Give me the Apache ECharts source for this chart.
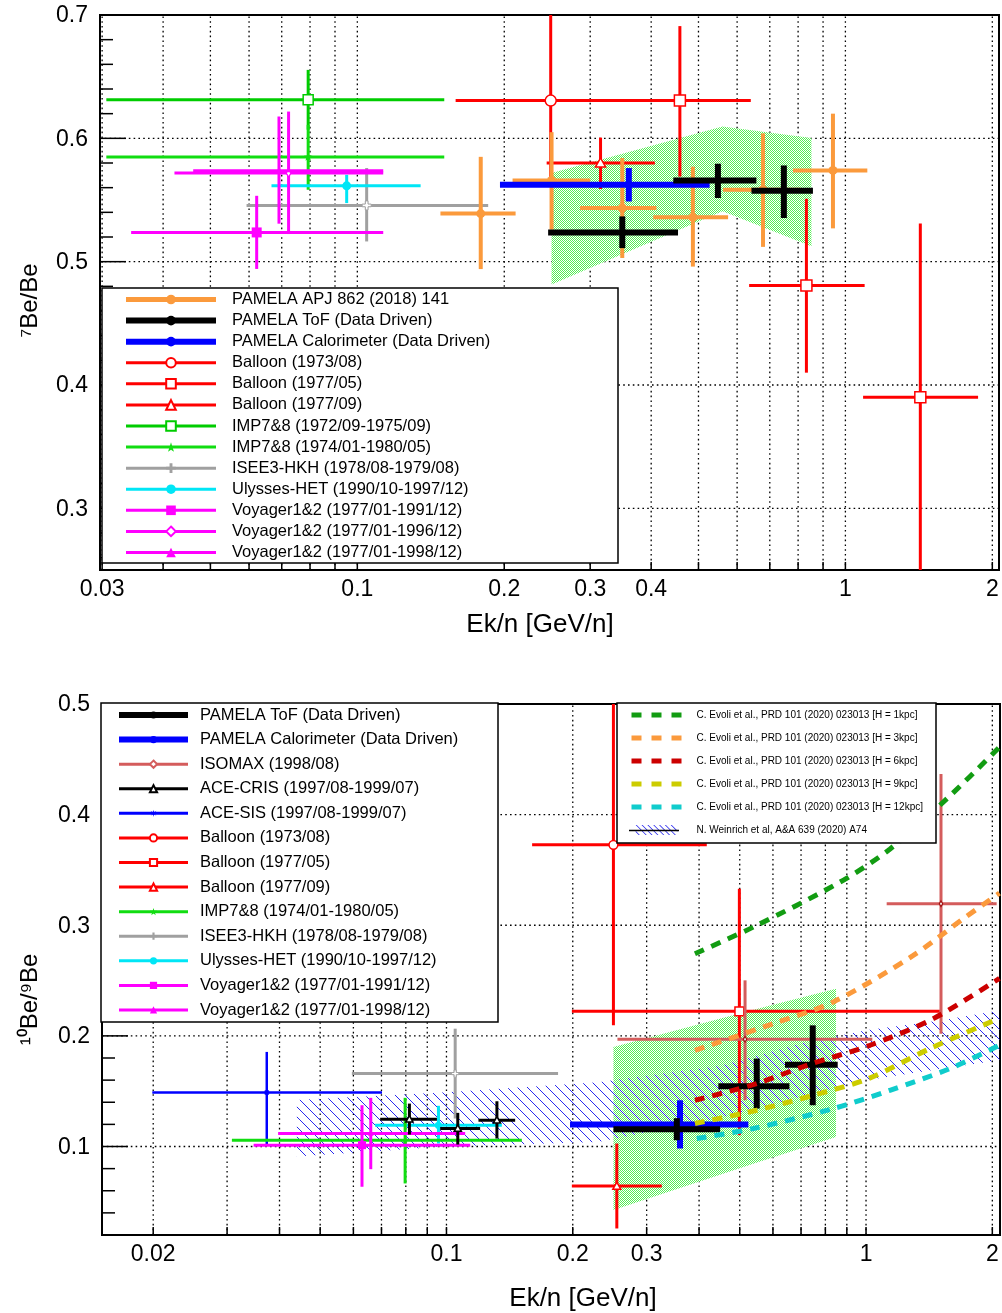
<!DOCTYPE html>
<html><head><meta charset="utf-8">
<script src="https://cdn.jsdelivr.net/npm/echarts@6/dist/echarts.min.js"></script>
<style>html,body{margin:0;padding:0;background:#fff}#c{width:1002px;height:1313px}</style>
</head><body><div id="c"></div>
<script>
// ---------------- axis ranges and ticks ----------------
const TOP_X_RANGE = [0.0297, 2.064];
const TOP_Y_RANGE = [0.25, 0.7];
const BOT_X_RANGE = [0.0151, 2.086];
const BOT_Y_RANGE = [0.02, 0.5];

const X_TICKS_TOP = [0.03,0.04,0.05,0.06,0.07,0.08,0.09,0.1,0.2,0.3,0.4,0.5,0.6,0.7,0.8,0.9,1,2];
const X_LABELS_TOP = [0.03,0.1,0.2,0.3,0.4,1,2];
const Y_MAJOR_TOP = [0.3,0.4,0.5,0.6,0.7];
const Y_MINOR_TOP = [0.26,0.28,0.32,0.34,0.36,0.38,0.42,0.44,0.46,0.48,0.52,0.54,0.56,0.58,0.62,0.64,0.66,0.68];

const X_TICKS_BOT = [0.02,0.03,0.04,0.05,0.06,0.07,0.08,0.09,0.1,0.2,0.3,0.4,0.5,0.6,0.7,0.8,0.9,1,2];
const X_LABELS_BOT = [0.02,0.1,0.2,0.3,1,2];
const Y_MAJOR_BOT = [0.1,0.2,0.3,0.4,0.5];
const Y_MINOR_BOT = [0.02,0.04,0.06,0.08,0.12,0.14,0.16,0.18,0.22,0.24,0.26,0.28,0.32,0.34,0.36,0.38,0.42,0.44,0.46,0.48];

// ---------------- data: [x, y, xlo, xhi, ylo, yhi] ----------------
// Top panel: 7Be/Be
const T_PAMELA_APJ = [
  [0.179, 0.539, 0.148, 0.211, 0.494, 0.585],
  [0.25, 0.5658, 0.208, 0.30, 0.526, 0.605],
  [0.349, 0.5435, 0.286, 0.41, 0.503, 0.584],
  [0.487, 0.536, 0.404, 0.575, 0.496, 0.577],
  [0.678, 0.5583, 0.5615, 0.81, 0.512, 0.604],
  [0.943, 0.574, 0.781, 1.109, 0.527, 0.620]
];
const T_PAMELA_TOF = [
  [0.349, 0.5237, 0.246, 0.454, 0.511, 0.5367],
  [0.548, 0.5658, 0.444, 0.657, 0.5516, 0.5794],
  [0.748, 0.5575, 0.642, 0.858, 0.5354, 0.578]
];
const T_PAMELA_CALO = [[0.36, 0.5623, 0.196, 0.527, 0.5488, 0.5759]];
const T_BALLOON_7308 = [[0.249, 0.6306, 0.159, 0.40, 0.566, 0.72]];
const T_BALLOON_7705 = [
  [0.458, 0.6306, 0.33, 0.640, 0.569, 0.691],
  [0.832, 0.4806, 0.635, 1.095, 0.41, 0.551],
  [1.424, 0.39, 1.087, 1.87, 0.24, 0.531]
];
const T_BALLOON_7709 = [[0.315, 0.58, 0.2443, 0.407, 0.5589, 0.6006]];
const T_IMP_72 = [[0.0793, 0.6312, 0.0306, 0.1507, 0.607, 0.6555]];
const T_IMP_74 = [[0.0793, 0.5848, 0.0306, 0.1507, 0.5583, 0.6109]];
const T_ISEE3 = [[0.1045, 0.5456, 0.0593, 0.1854, 0.5164, 0.5759]];
const T_ULYSSES = [[0.0951, 0.5615, 0.0667, 0.1348, 0.5475, 0.5704]];
const T_VOY_91 = [[0.0622, 0.5237, 0.0344, 0.113, 0.4941, 0.5534]];
const T_VOY_96 = [[0.0723, 0.5718, 0.0422, 0.113, 0.5224, 0.6217]];
const T_VOY_98 = [[0.0691, 0.5737, 0.0461, 0.113, 0.5308, 0.6177]];
// green model band, top panel
const TOP_BAND_X = [0.25, 0.56, 0.852];
const TOP_BAND_LO = [0.4814, 0.5409, 0.5124];
const TOP_BAND_HI = [0.5718, 0.6096, 0.6002];

// Bottom panel: 10Be/9Be
const B_PAMELA_TOF = [
  [0.354, 0.1156, 0.25, 0.449, 0.1057, 0.1256],
  [0.549, 0.1544, 0.4446, 0.6567, 0.1343, 0.1795],
  [0.7464, 0.174, 0.641, 0.856, 0.1373, 0.2095]
];
const B_PAMELA_CALO = [[0.3603, 0.1199, 0.197, 0.5243, 0.0982, 0.1418]];
const B_ISOMAX = [
  [0.5148, 0.1969, 0.2556, 1.035, 0.1418, 0.2502],
  [1.509, 0.3194, 1.12, 2.048, 0.202, 0.4368]
];
const B_ACE_CRIS = [
  [0.0816, 0.1247, 0.0695, 0.0949, 0.1108, 0.1388],
  [0.1064, 0.1163, 0.0966, 0.1203, 0.1018, 0.1304],
  [0.1319, 0.1238, 0.1192, 0.1458, 0.1072, 0.1409]
];
const B_ACE_SIS = [[0.0373, 0.1488, 0.0199, 0.0702, 0.102, 0.1855]];
const B_BALLOON_7308 = [[0.25, 0.3727, 0.16, 0.4173, 0.2095, 0.536]];
const B_BALLOON_7705 = [[0.499, 0.2222, 0.199, 1.5, 0.1102, 0.333]];
const B_BALLOON_7709 = [[0.2547, 0.0642, 0.199, 0.326, 0.0259, 0.1027]];
const B_IMP_74 = [[0.0797, 0.1057, 0.0308, 0.1512, 0.0666, 0.144]];
const B_ISEE3 = [[0.1049, 0.1659, 0.0595, 0.1845, 0.1253, 0.2065]];
const B_ULYSSES = [[0.0957, 0.1192, 0.0676, 0.1355, 0.1027, 0.1368]];
const B_VOY_91 = [[0.0629, 0.1012, 0.0347, 0.1139, 0.0636, 0.1373]];
const B_VOY_98 = [[0.066, 0.1117, 0.0397, 0.1108, 0.0795, 0.144]];
// green model band, bottom panel
const BOT_BAND_X = [0.25, 0.548, 0.848];
const BOT_BAND_LO = [0.0425, 0.0852, 0.1087];
const BOT_BAND_HI = [0.1899, 0.2244, 0.2427];
// Weinrich et al. hatched band
const WEIN_X = [0.044, 0.1, 0.23, 0.45, 0.7, 1.0, 1.5, 2.08];
const WEIN_LO = [0.091, 0.100, 0.104, 0.126, 0.145, 0.160, 0.170, 0.178];
const WEIN_HI = [0.142, 0.149, 0.158, 0.173, 0.193, 0.205, 0.214, 0.223];
// Evoli et al. model curves
const EV1_X = [0.391, 0.539, 0.867, 1.141, 1.557, 2.08];
const EV1_Y = [0.2743, 0.2984, 0.339, 0.369, 0.4142, 0.461];
const EV3_X = [0.391, 0.601, 0.836, 1.296, 1.705, 2.08];
const EV3_Y = [0.187, 0.2111, 0.2307, 0.2727, 0.3059, 0.329];
const EV6_X = [0.391, 0.549, 0.7225, 1.022, 1.447, 2.08];
const EV6_Y = [0.1418, 0.1569, 0.1734, 0.1915, 0.2156, 0.252];
const EV9_X = [0.391, 0.549, 0.749, 1.013, 1.42, 2.08];
const EV9_Y = [0.1208, 0.1328, 0.1463, 0.1614, 0.1885, 0.216];
const EV12_X = [0.395, 0.539, 0.836, 1.14, 1.585, 2.08];
const EV12_Y = [0.1072, 0.1163, 0.1343, 0.1508, 0.1704, 0.1915];

// ---------------- styles ----------------
const FONT = '"Liberation Sans", Arial, Helvetica, sans-serif';
const N = {
  APJ: 'PAMELA APJ 862 (2018) 141', TOF: 'PAMELA ToF (Data Driven)', CALO: 'PAMELA Calorimeter (Data Driven)',
  B7308: 'Balloon (1973/08)', B7705: 'Balloon (1977/05)', B7709: 'Balloon (1977/09)',
  IMP72: 'IMP7&8 (1972/09-1975/09)', IMP74: 'IMP7&8 (1974/01-1980/05)', ISEE: 'ISEE3-HKH (1978/08-1979/08)',
  ULY: 'Ulysses-HET (1990/10-1997/12)', V91: 'Voyager1&2 (1977/01-1991/12)', V96: 'Voyager1&2 (1977/01-1996/12)',
  V98: 'Voyager1&2 (1977/01-1998/12)', ISO: 'ISOMAX (1998/08)', CRIS: 'ACE-CRIS (1997/08-1999/07)', SIS: 'ACE-SIS (1997/08-1999/07)',
  E1: 'C. Evoli et al., PRD 101 (2020) 023013 [H = 1kpc]', E3: 'C. Evoli et al., PRD 101 (2020) 023013 [H = 3kpc]',
  E6: 'C. Evoli et al., PRD 101 (2020) 023013 [H = 6kpc]', E9: 'C. Evoli et al., PRD 101 (2020) 023013 [H = 9kpc]',
  E12: 'C. Evoli et al., PRD 101 (2020) 023013 [H = 12kpc]', WEIN: 'N. Weinrich et al, A&A 639 (2020) A74'
};
const STAR_PATH = 'path://M5,0 L6.2,3.6 L10,3.6 L6.9,5.9 L8.1,9.5 L5,7.3 L1.9,9.5 L3.1,5.9 L0,3.6 L3.8,3.6 Z';
const CROSS_PATH = 'path://M3.5,0 L6.5,0 L6.5,3.5 L10,3.5 L10,6.5 L6.5,6.5 L6.5,10 L3.5,10 L3.5,6.5 L0,6.5 L0,3.5 L3.5,3.5 Z';
const AST_PATH = 'path://M5,0 L5.8,3.6 L9,1.5 L6.4,4.6 L10,5 L6.4,5.4 L9,8.5 L5.8,6.4 L5,10 L4.2,6.4 L1,8.5 L3.6,5.4 L0,5 L3.6,4.6 L1,1.5 L4.2,3.6 Z';
const HATCH_ICON = 'path://M0,0 L1.3,0 L13.3,12 L12,12 Z M7,0 L8.3,0 L20.3,12 L19,12 Z M14,0 L15.3,0 L27.3,12 L26,12 Z M21,0 L22.3,0 L34.3,12 L33,12 Z M28,0 L29.3,0 L41.3,12 L40,12 Z M35,0 L36.3,0 L48.3,12 L47,12 Z M42,0 L43.3,0 L50,6.7 L50,8 Z M0,7 L5,12 L3.7,12 L0,8.3 Z';
const LEG_SYM = {circle:'circle', ocircle:'emptyCircle', square:'rect', osquare:'emptyRect', triangle:'triangle',
  otriangle:'emptyTriangle', odiamond:'emptyDiamond', star:STAR_PATH, ocross:CROSS_PATH, asterisk:AST_PATH};
const ST = {};
ST[N.APJ] = {c:'#fb9a3c', lw:4, lwl:5, m:'circle', ms:9};
ST[N.TOF] = {c:'#000000', lw:6, lwl:6, m:'circle', ms:6};
ST[N.CALO] = {c:'#0000ff', lw:6, lwl:6, m:'circle', ms:6};
ST[N.B7308] = {c:'#ff0000', lw:3, lwl:3, m:'ocircle', ms:11};
ST[N.B7705] = {c:'#ff0000', lw:3, lwl:3, m:'osquare', ms:11};
ST[N.B7709] = {c:'#ff0000', lw:3, lwl:3, m:'otriangle', ms:10};
ST[N.IMP72] = {c:'#00cc00', lw:3, lwl:3, m:'osquare', ms:10};
ST[N.IMP74] = {c:'#11dd11', lw:3, lwl:3, m:'star', ms:9};
ST[N.ISEE] = {c:'#a0a0a0', lw:3, lwl:3, m:'ocross', ms:9};
ST[N.ULY] = {c:'#00e6f6', lw:3, lwl:3, m:'circle', ms:9};
ST[N.V91] = {c:'#ff00ff', lw:3, lwl:3, m:'square', ms:10};
ST[N.V96] = {c:'#ff00ff', lw:3, lwl:3, m:'odiamond', ms:8};
ST[N.V98] = {c:'#ff00ff', lw:3, lwl:3, m:'triangle', ms:7};
ST[N.ISO] = {c:'#d45c5c', lw:3, lwl:3, m:'odiamond', ms:7, mc:'#a01010'};
ST[N.CRIS] = {c:'#000000', lw:3, lwl:3, m:'otriangle', ms:9};
ST[N.SIS] = {c:'#0000ff', lw:2.5, lwl:3, m:'asterisk', ms:7};
const EV_COL = {E1:'#129c12', E3:'#fb9a3c', E6:'#cc0000', E9:'#cccc00', E12:'#10cccc'};

const LEG_TOP = [N.APJ, N.TOF, N.CALO, N.B7308, N.B7705, N.B7709, N.IMP72, N.IMP74, N.ISEE, N.ULY, N.V91, N.V96, N.V98];
const LEG_BOT = [N.TOF, N.CALO, N.ISO, N.CRIS, N.SIS, N.B7308, N.B7705, N.B7709, N.IMP74, N.ISEE, N.ULY, N.V91, N.V98];
const LEG_MODEL = [N.E1, N.E3, N.E6, N.E9, N.E12, N.WEIN];

// ---------------- patterns ----------------
function dotPattern() {
  const c = document.createElement('canvas'); c.width = 2; c.height = 2;
  const g = c.getContext('2d');
  g.fillStyle = '#ffffff'; g.fillRect(0, 0, 2, 2);
  g.fillStyle = '#55ee55';
  g.fillRect(0, 0, 1, 1); g.fillRect(1, 1, 1, 1);
  return {image: c, repeat: 'repeat'};
}
function hatchPattern() {
  const c = document.createElement('canvas'); c.width = 10; c.height = 10;
  const g = c.getContext('2d'); g.strokeStyle = '#2a2aee'; g.lineWidth = 1;
  g.beginPath(); g.moveTo(-1, -1); g.lineTo(11, 11); g.moveTo(-6, 4); g.lineTo(6, 16); g.moveTo(4, -6); g.lineTo(16, 6); g.stroke();
  return {image: c, repeat: 'repeat'};
}
const DOTS = dotPattern();
const HATCH = hatchPattern();

// ---------------- render helpers ----------------
function marker(kind, cx, cy, s, col) {
  const h = s / 2;
  const open = {fill:'#fff', stroke:col, lineWidth:1.5};
  const solid = {fill:col};
  switch (kind) {
    case 'circle': return {type:'circle', shape:{cx, cy, r:h}, style:solid};
    case 'ocircle': return {type:'circle', shape:{cx, cy, r:h}, style:open};
    case 'square': return {type:'rect', shape:{x:cx-h, y:cy-h, width:s, height:s}, style:solid};
    case 'osquare': return {type:'rect', shape:{x:cx-h, y:cy-h, width:s, height:s}, style:open};
    case 'triangle': return {type:'polygon', shape:{points:[[cx,cy-h],[cx+h,cy+h*0.8],[cx-h,cy+h*0.8]]}, style:solid};
    case 'otriangle': return {type:'polygon', shape:{points:[[cx,cy-h],[cx+h,cy+h*0.8],[cx-h,cy+h*0.8]]}, style:open};
    case 'odiamond': return {type:'polygon', shape:{points:[[cx,cy-h],[cx+h*0.6,cy],[cx,cy+h],[cx-h*0.6,cy]]}, style:{fill:'#fff', stroke:col, lineWidth:1.2}};
    case 'star': {
      const pts = [];
      for (let i = 0; i < 10; i++) { const r = i % 2 ? h*0.45 : h; const a = -Math.PI/2 + i*Math.PI/5; pts.push([cx + r*Math.cos(a), cy + r*Math.sin(a)]); }
      return {type:'polygon', shape:{points:pts}, style:solid};
    }
    case 'ocross': {
      const a = h*0.3;
      return {type:'polygon', shape:{points:[[cx-a,cy-h],[cx+a,cy-h],[cx+a,cy-a],[cx+h,cy-a],[cx+h,cy+a],[cx+a,cy+a],[cx+a,cy+h],[cx-a,cy+h],[cx-a,cy+a],[cx-h,cy+a],[cx-h,cy-a],[cx-a,cy-a]]}, style:{fill:'#fff', stroke:col, lineWidth:1}};
    }
    case 'asterisk': return {type:'group', children:[
      {type:'line', shape:{x1:cx-h, y1:cy, x2:cx+h, y2:cy}, style:{stroke:col, lineWidth:1.5}},
      {type:'line', shape:{x1:cx, y1:cy-h, x2:cx, y2:cy+h}, style:{stroke:col, lineWidth:1.5}},
      {type:'line', shape:{x1:cx-h*0.7, y1:cy-h*0.7, x2:cx+h*0.7, y2:cy+h*0.7}, style:{stroke:col, lineWidth:1.5}},
      {type:'line', shape:{x1:cx-h*0.7, y1:cy+h*0.7, x2:cx+h*0.7, y2:cy-h*0.7}, style:{stroke:col, lineWidth:1.5}}]};
  }
  return null;
}
function errSeries(name, data, axis, scale, z) {
  const st = ST[name];
  return {
    type:'custom', name, data, xAxisIndex:axis, yAxisIndex:axis, clip:true, z:z || 3, silent:true,
    itemStyle:{color:st.c},
    renderItem: function (params, api) {
      const x = api.value(0), y = api.value(1);
      const c = api.coord([x, y]);
      const l = api.coord([api.value(2), y]), r = api.coord([api.value(3), y]);
      const lo = api.coord([x, api.value(4)]), hi = api.coord([x, api.value(5)]);
      const ls = {stroke:st.c, lineWidth:st.lw};
      const kids = [
        {type:'line', shape:{x1:l[0], y1:l[1], x2:r[0], y2:r[1]}, style:ls},
        {type:'line', shape:{x1:lo[0], y1:lo[1], x2:hi[0], y2:hi[1]}, style:ls}
      ];
      const m = marker(st.m, c[0], c[1], st.ms*scale, st.mc || st.c);
      if (m) kids.push(m);
      return {type:'group', children:kids};
    }
  };
}
function bandSeries(name, xs, los, his, axis, fill, z, color) {
  return {
    type:'custom', name, data:[[xs[0], los[0]]], xAxisIndex:axis, yAxisIndex:axis, clip:true, z, silent:true,
    itemStyle:{color:color || '#55ee55'},
    renderItem: function (params, api) {
      const pts = [];
      for (let i = 0; i < xs.length; i++) pts.push(api.coord([xs[i], his[i]]));
      for (let i = xs.length - 1; i >= 0; i--) pts.push(api.coord([xs[i], los[i]]));
      return {type:'polygon', shape:{points:pts}, style:{fill}};
    }
  };
}
const DOT_LINE = {stroke:'#000', lineWidth:1.3, lineDash:[1.6, 3.2]};
function xTickSeries(ticks, axis, yr, labels) {
  return {
    type:'custom', data:ticks.map(v => [v, yr[0]]), xAxisIndex:axis, yAxisIndex:axis, clip:false, z:1, silent:true,
    renderItem: function (params, api) {
      const x = api.value(0);
      const b = api.coord([x, yr[0]]), t = api.coord([x, yr[1]]);
      const kids = [
        {type:'line', shape:{x1:b[0], y1:b[1], x2:t[0], y2:t[1]}, style:DOT_LINE},
        {type:'line', shape:{x1:b[0], y1:b[1], x2:b[0], y2:b[1]-8}, style:{stroke:'#000', lineWidth:1.5}}
      ];
      if (labels.indexOf(x) >= 0) {
        kids.push({type:'text', x:b[0], y:b[1]+8, style:{text:String(x), align:'center', verticalAlign:'top', fontSize:23, fontFamily:FONT, fill:'#000'}});
      }
      return {type:'group', children:kids};
    }
  };
}
function yTickSeries(ticks, axis, xr, major) {
  return {
    type:'custom', data:ticks.map(v => [xr[0], v]), xAxisIndex:axis, yAxisIndex:axis, clip:false, z:1, silent:true,
    renderItem: function (params, api) {
      const y = api.value(1);
      const l = api.coord([xr[0], y]), r = api.coord([xr[1], y]);
      const kids = [{type:'line', shape:{x1:l[0], y1:l[1], x2:l[0] + (major ? 26 : 13), y2:l[1]}, style:{stroke:'#000', lineWidth:1.5}}];
      if (major) {
        kids.push({type:'line', shape:{x1:l[0], y1:l[1], x2:r[0], y2:r[1]}, style:DOT_LINE});
        kids.push({type:'text', x:l[0]-12, y:l[1]+1, style:{text:y.toFixed(1), align:'right', verticalAlign:'middle', fontSize:23, fontFamily:FONT, fill:'#000'}});
      }
      return {type:'group', children:kids};
    }
  };
}
function evoliSeries(key, xs, ys) {
  return {
    type:'line', name:N[key], data:xs.map((x, i) => [x, ys[i]]), xAxisIndex:1, yAxisIndex:1, z:4,
    symbol:'none', showSymbol:false, smooth:0.3, silent:true, color:EV_COL[key],
    lineStyle:{color:EV_COL[key], width:5, type:[10, 8], cap:'butt'}
  };
}

// legend-only helper series (one per experiment name)
const legendSeries = Object.keys(ST).map(name => ({
  type:'line', name, data:[], xAxisIndex:0, yAxisIndex:0, color:ST[name].c,
  symbol:LEG_SYM[ST[name].m], lineStyle:{color:ST[name].c, width:ST[name].lwl}, itemStyle:{color:ST[name].c}
}));

const series = [].concat(legendSeries, [
  // top panel
  xTickSeries(X_TICKS_TOP, 0, TOP_Y_RANGE, X_LABELS_TOP),
  yTickSeries(Y_MAJOR_TOP, 0, TOP_X_RANGE, true),
  yTickSeries(Y_MINOR_TOP, 0, TOP_X_RANGE, false),
  bandSeries('band-top', TOP_BAND_X, TOP_BAND_LO, TOP_BAND_HI, 0, DOTS, 2),
  errSeries(N.B7308, T_BALLOON_7308, 0, 1),
  errSeries(N.B7705, T_BALLOON_7705, 0, 1),
  errSeries(N.B7709, T_BALLOON_7709, 0, 1),
  errSeries(N.IMP72, T_IMP_72, 0, 1),
  errSeries(N.IMP74, T_IMP_74, 0, 1),
  errSeries(N.ISEE, T_ISEE3, 0, 1),
  errSeries(N.ULY, T_ULYSSES, 0, 1),
  errSeries(N.V91, T_VOY_91, 0, 1),
  errSeries(N.V96, T_VOY_96, 0, 1),
  errSeries(N.V98, T_VOY_98, 0, 1),
  errSeries(N.APJ, T_PAMELA_APJ, 0, 1),
  errSeries(N.CALO, T_PAMELA_CALO, 0, 1),
  errSeries(N.TOF, T_PAMELA_TOF, 0, 1),
  // bottom panel
  xTickSeries(X_TICKS_BOT, 1, BOT_Y_RANGE, X_LABELS_BOT),
  yTickSeries(Y_MAJOR_BOT, 1, BOT_X_RANGE, true),
  yTickSeries(Y_MINOR_BOT, 1, BOT_X_RANGE, false),
  bandSeries('band-bottom', BOT_BAND_X, BOT_BAND_LO, BOT_BAND_HI, 1, DOTS, 2),
  bandSeries(N.WEIN, WEIN_X, WEIN_LO, WEIN_HI, 1, HATCH, 2, '#2a2aee'),
  errSeries(N.SIS, B_ACE_SIS, 1, 0.8),
  errSeries(N.ISEE, B_ISEE3, 1, 0.8),
  errSeries(N.ULY, B_ULYSSES, 1, 0.8),
  errSeries(N.IMP74, B_IMP_74, 1, 0.8),
  errSeries(N.V91, B_VOY_91, 1, 0.8),
  errSeries(N.V98, B_VOY_98, 1, 0.8),
  errSeries(N.CRIS, B_ACE_CRIS, 1, 0.8),
  errSeries(N.B7308, B_BALLOON_7308, 1, 0.8),
  errSeries(N.B7705, B_BALLOON_7705, 1, 0.8),
  errSeries(N.B7709, B_BALLOON_7709, 1, 0.8),
  errSeries(N.ISO, B_ISOMAX, 1, 0.8),
  errSeries(N.CALO, B_PAMELA_CALO, 1, 0.8),
  errSeries(N.TOF, B_PAMELA_TOF, 1, 0.8),
  evoliSeries('E1', EV1_X, EV1_Y),
  evoliSeries('E3', EV3_X, EV3_Y),
  evoliSeries('E6', EV6_X, EV6_Y),
  evoliSeries('E9', EV9_X, EV9_Y),
  evoliSeries('E12', EV12_X, EV12_Y)
]);

function hiddenAxisBits() {
  return {axisLine:{show:false}, axisTick:{show:false}, axisLabel:{show:false}, splitLine:{show:false}, minorTick:{show:false}, minorSplitLine:{show:false}};
}

const option = {
  animation:false,
  backgroundColor:'#ffffff',
  grid:[
    {left:100, top:15, width:899, height:555, show:true, borderColor:'#000', borderWidth:2, backgroundColor:'transparent'},
    {left:102, top:704, width:898, height:532, show:true, borderColor:'#000', borderWidth:2, backgroundColor:'transparent'}
  ],
  xAxis:[
    Object.assign({gridIndex:0, type:'log', logBase:10, min:TOP_X_RANGE[0], max:TOP_X_RANGE[1],
      name:'Ek/n [GeV/n]', nameLocation:'middle', nameGap:42,
      nameTextStyle:{fontSize:26, color:'#000', fontFamily:FONT, padding:[0,19,0,0]}}, hiddenAxisBits()),
    Object.assign({gridIndex:1, type:'log', logBase:10, min:BOT_X_RANGE[0], max:BOT_X_RANGE[1],
      name:'Ek/n [GeV/n]', nameLocation:'middle', nameGap:51,
      nameTextStyle:{fontSize:26, color:'#000', fontFamily:FONT, padding:[0,0,0,64]}}, hiddenAxisBits())
  ],
  yAxis:[
    Object.assign({gridIndex:0, type:'value', min:TOP_Y_RANGE[0], max:TOP_Y_RANGE[1],
      name:'\u2077Be/Be', nameLocation:'middle', nameRotate:90, nameGap:58,
      nameTextStyle:{fontSize:24, color:'#000', fontFamily:FONT, padding:[0,16,0,0]}}, hiddenAxisBits()),
    Object.assign({gridIndex:1, type:'value', min:BOT_Y_RANGE[0], max:BOT_Y_RANGE[1],
      name:'\u00B9\u2070Be/\u2079Be', nameLocation:'middle', nameRotate:90, nameGap:60,
      nameTextStyle:{fontSize:24, color:'#000', fontFamily:FONT, padding:[0,60,0,0]}}, hiddenAxisBits())
  ],
  legend:[
    {orient:'vertical', left:123, top:291, padding:0, itemWidth:90, itemHeight:12, itemGap:4.08, selectedMode:false, z:11,
      textStyle:{fontSize:16.5, fontFamily:FONT, color:'#000', lineHeight:12, padding:[0,0,0,11]},
      data:LEG_TOP.map(n => ({name:n, lineStyle:{width:ST[n].lwl}}))},
    {orient:'vertical', left:116, top:706.5, padding:0, itemWidth:69, itemHeight:9, itemGap:7.58, selectedMode:false, z:11,
      textStyle:{fontSize:16.5, fontFamily:FONT, color:'#000', lineHeight:9, padding:[0,0,0,7]},
      data:LEG_BOT.map(n => ({name:n, lineStyle:{width:ST[n].lwl}}))},
    {orient:'vertical', left:629, top:710, padding:0, itemWidth:50, itemHeight:10, itemGap:13, selectedMode:false, z:11,
      textStyle:{fontSize:10, fontFamily:FONT, color:'#000', lineHeight:10, padding:[0,0,0,10]},
      data:LEG_MODEL.map(n => n === N.WEIN
        ? {name:n, icon:HATCH_ICON, itemStyle:{color:'#2a2aee'}}
        : {name:n, lineStyle:{width:5, type:[10,10]}, itemStyle:{opacity:0}})}
  ],
  graphic:[
    {type:'rect', z:10, shape:{x:102, y:288, width:516, height:275}, style:{fill:'#fff', stroke:'#000', lineWidth:1.5}},
    {type:'rect', z:10, shape:{x:101, y:703, width:397, height:319}, style:{fill:'#fff', stroke:'#000', lineWidth:1.5}},
    {type:'rect', z:10, shape:{x:617, y:703, width:319, height:140}, style:{fill:'#fff', stroke:'#000', lineWidth:1.5}},
    {type:'line', z:12, shape:{x1:629, y1:830.5, x2:679, y2:830.5}, style:{stroke:'#000', lineWidth:1.5}}
  ],
  series
};

const chart = echarts.init(document.getElementById('c'), null, {renderer:'canvas'});
chart.setOption(option);
</script>
</body></html>
